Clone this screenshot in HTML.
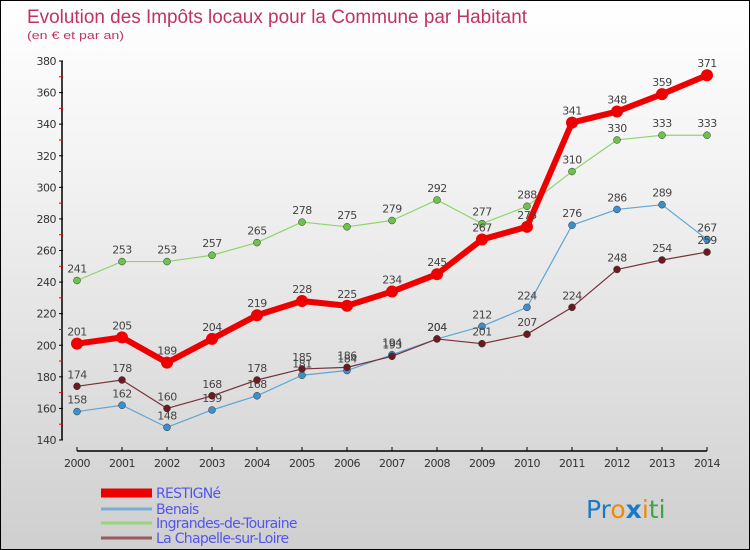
<!DOCTYPE html>
<html><head><meta charset="utf-8"><style>
body{margin:0}
#wrap{width:750px;height:550px;position:relative;box-sizing:border-box;border:1px solid #000;background:linear-gradient(#fff,#f3f3f3 30%,#cfcfcf);font-family:"DejaVu Sans","Liberation Sans",sans-serif;overflow:hidden}
svg text{font-family:"DejaVu Sans","Liberation Sans",sans-serif}
</style></head><body>
<div id="wrap">
<svg id="svg" width="750" height="550" xmlns="http://www.w3.org/2000/svg">
<text x="26" y="22" font-size="19" fill="#c0335f" textLength="500" lengthAdjust="spacingAndGlyphs" style="font-family:'Liberation Sans',sans-serif">Evolution des Impôts locaux pour la Commune par Habitant</text>
<text x="26" y="38" font-size="11" fill="#c0335f" textLength="97" lengthAdjust="spacingAndGlyphs" style="font-family:'Liberation Sans',sans-serif">(en € et par an)</text>
<g id="axes"></g><g id="series"></g><g id="legend"></g>
<text x="585" y="517" font-size="25"><tspan fill="#1a7ac8">Pr</tspan><tspan fill="#f08a00">o</tspan><tspan fill="#1a7ac8" font-weight="bold">x</tspan><tspan fill="#f08a00">i</tspan><tspan fill="#3aa845">ti</tspan></text>
</svg></div>
<script>
const years=[2000,2001,2002,2003,2004,2005,2006,2007,2008,2009,2010,2011,2012,2013,2014];
const restigne=[201,205,189,204,219,228,225,234,245,267,275,341,348,359,371];
const benais=[158,162,148,159,168,181,184,194,204,212,224,276,286,289,267];
const ingrandes=[241,253,253,257,265,278,275,279,292,277,288,310,330,333,333];
const chapelle=[174,178,160,168,178,185,186,193,204,201,207,224,248,254,259];
const yTicks=[140,160,180,200,220,240,260,280,300,320,340,360,380];
const names=["RESTIGNé","Benais","Ingrandes-de-Touraine","La Chapelle-sur-Loire"];
const NS="http://www.w3.org/2000/svg";
const X=i=>76+i*45, Y=v=>439-(v-140)*379/240;
function mk(t,a,p){const e=document.createElementNS(NS,t);for(const k in a)e.setAttribute(k,a[k]);p.appendChild(e);return e;}
const ax=document.getElementById('axes');
let l=mk('line',{x1:61,y1:60,x2:61,y2:439,stroke:'#000','stroke-width':1.5},ax);


l=mk('line',{x1:76,y1:450,x2:706,y2:450,stroke:'#000','stroke-width':1.5},ax);


yTicks.forEach((v,i)=>{
  mk('line',{x1:58,y1:Y(v),x2:62,y2:Y(v),stroke:'#000'},ax);
  if(i<yTicks.length-1)mk('line',{x1:58,y1:Y(v+10),x2:62,y2:Y(v+10),stroke:'#e00'},ax);
  const t=mk('text',{x:55,y:Y(v)+4,'font-size':11,fill:'#333','text-anchor':'end','letter-spacing':-0.5},ax);
  t.textContent=v;
  
  
});
years.forEach((yr,i)=>{
  mk('line',{x1:X(i),y1:446,x2:X(i),y2:450,stroke:'#000'},ax);
  const t=mk('text',{x:X(i),y:466,'font-size':11,fill:'#333','text-anchor':'middle','letter-spacing':-0.5},ax);
  t.textContent=yr;
  
  
});
const S=document.getElementById('series');
const defs=[[ingrandes,'#8fd46a','#6cc24a',1.2,3.5,'ingrandes'],[benais,'#5da6d6','#3a8fcc',1.2,3.5,'benais'],[chapelle,'#7a3038','#6a1a20',1.2,3.5,'chapelle'],[restigne,'#ee0000','#ee0000',6,6,'restigne']];
defs.forEach(([d,c,f,w,r,n])=>{
  const g=mk('g',{},S);
  
  
  const p=mk('polyline',{points:d.map((v,i)=>X(i)+','+Y(v)).join(' '),fill:'none',stroke:c,'stroke-width':w,'stroke-linejoin':'round'},g);
  
  
  d.forEach((v,i)=>{
    const cc=mk('circle',{cx:X(i),cy:Y(v),r:r,fill:f,stroke:w>2?'none':'#333','stroke-width':0.5},g);
    
    
    const t=mk('text',{x:X(i),y:Y(v)-8,'font-size':11,fill:'#444','text-anchor':'middle','letter-spacing':-0.5},g);
    t.textContent=v;
    
    
  });
});
const L=document.getElementById('legend');
const lc=['#ee0000','#7aaed8','#99d57a','#9a5a5e'],lw=[9,3,3,3],ly=[492,508,522,537];
names.forEach((n,i)=>{
  const g=mk('g',{},L);
  
  
  mk('line',{x1:100,y1:ly[i],x2:151,y2:ly[i],stroke:lc[i],'stroke-width':lw[i]},g);
  const t=mk('text',{x:155,y:ly[i]+5,'font-size':14,fill:'#5555ee','letter-spacing':-0.7},g);
  t.textContent=n;
});
</script>
</body></html>
